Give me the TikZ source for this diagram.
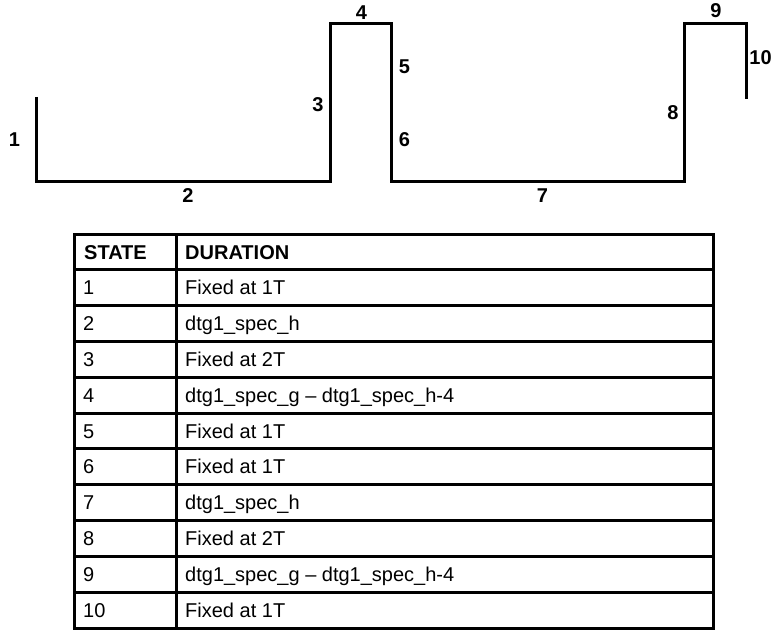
\documentclass[tikz,border=0pt]{standalone}
\usepackage{fontspec}
\setmainfont{Liberation Sans}
\begin{document}
\begin{tikzpicture}[x=1pt,y=-1pt,
  wave/.style={line width=3pt,line join=miter},
  grid/.style={line width=3pt},
  lbl/.style={font=\fontsize{20}{24}\selectfont\bfseries,inner sep=0pt},
  cell/.style={font=\fontsize{20}{24}\selectfont,anchor=base west,inner sep=0pt}]
\useasboundingbox (0,0) rectangle (775,631);
% waveform
\coordinate (p0) at (36,97);
\coordinate (p1) at (36,181);
\coordinate (p2) at (330.5,181);
\coordinate (p3) at (330.5,24);
\coordinate (p4) at (391,24);
\coordinate (p5) at (391,181);
\coordinate (p6) at (684.5,181);
\coordinate (p7) at (684.5,24);
\coordinate (p8) at (746,24);
\coordinate (p9) at (746,99);
\draw[wave] (p0) -- (p1) -- (p2) -- (p3) -- (p4) -- (p5) -- (p6) -- (p7) -- (p8) -- (p9);
\node[lbl] (l1) at (14.5,140) {1};
\node[lbl] (l2) at (188,195.5) {2};
\node[lbl] (l3) at (318,105) {3};
\node[lbl] (l4) at (361.5,13) {4};
\node[lbl] (l5) at (404.5,67) {5};
\node[lbl] (l6) at (404.5,140) {6};
\node[lbl] (l7) at (542.5,195.5) {7};
\node[lbl] (l8) at (673,113) {8};
\node[lbl] (l9) at (716,11) {9};
\node[lbl] (l10) at (760.5,57.5) {10};
% table
\draw[grid] (74,234) rectangle (713,628);
\draw[grid] (176,234) -- (176,628);
\foreach \r in {1,...,10}
  \draw[grid] (74,{234+35.8*\r}) -- (713,{234+35.8*\r});
\node[cell,font=\fontsize{20}{24}\selectfont\bfseries] (hs) at (84,{234+35.8*0.5+7.2}) {STATE};
\node[cell,font=\fontsize{20}{24}\selectfont\bfseries] (hd) at (185,{234+35.8*0.5+7.2}) {DURATION};
\foreach \s/\d [count=\i] in {1/Fixed at 1T, 2/dtg1\_spec\_h, 3/Fixed at 2T,
  4/dtg1\_spec\_g -- dtg1\_spec\_h-4, 5/Fixed at 1T, 6/Fixed at 1T, 7/dtg1\_spec\_h,
  8/Fixed at 2T, 9/dtg1\_spec\_g -- dtg1\_spec\_h-4, 10/Fixed at 1T} {
  \node[cell] (s\i) at (83,{234+35.8*(\i+0.5)+7.2}) {\s};
  \node[cell] (d\i) at (185,{234+35.8*(\i+0.5)+7.2}) {\d};
}
\end{tikzpicture}
\end{document}
